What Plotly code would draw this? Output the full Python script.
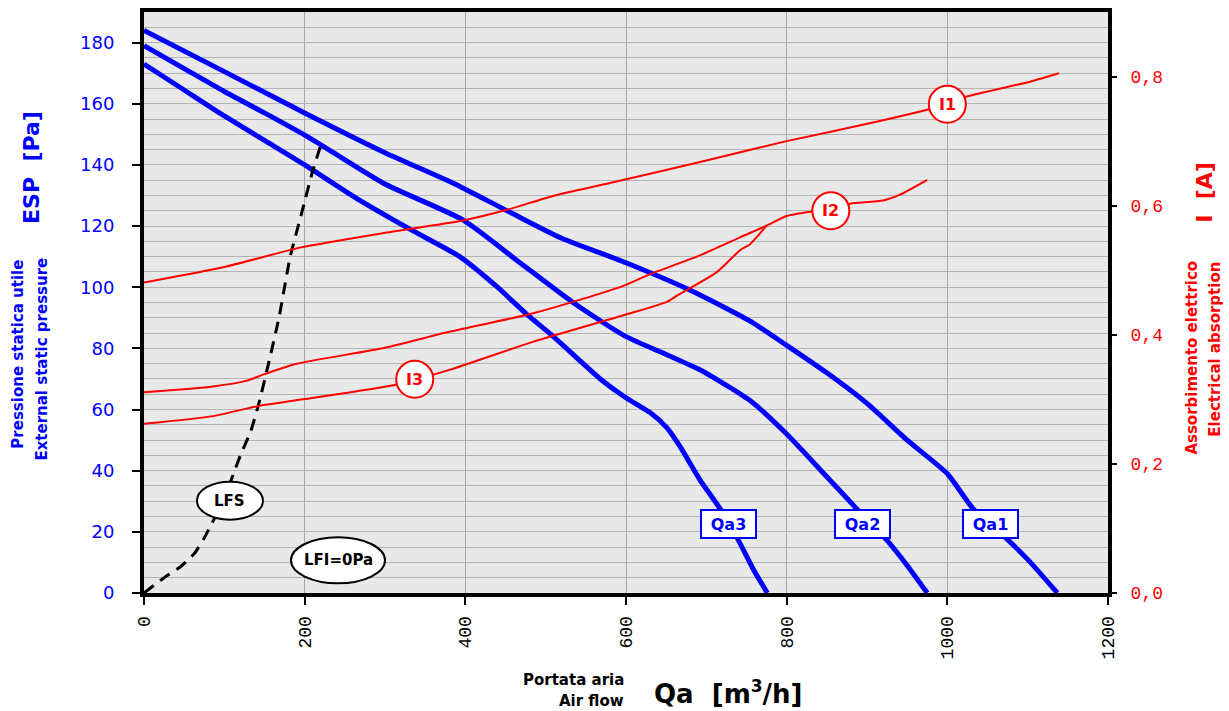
import plotly.graph_objects as go

# ---------------- data ----------------
qa1_x = [0, 100, 200, 300, 385, 452, 520, 600, 680, 754, 800, 850, 900, 950, 1000, 1032, 1076, 1100, 1137]
qa1_y = [184, 170.5, 157, 144, 134, 125, 116, 108, 99, 89, 81, 72, 62, 50, 39, 27.6, 17.2, 11, 0]

qa2_x = [0, 50, 100, 150, 205, 298, 397, 468, 534, 599, 650, 692, 754, 800, 850, 887, 925, 950, 975]
qa2_y = [179, 171.5, 164, 157, 149, 134, 122, 108, 95, 84, 78, 73, 63, 52, 38, 27.6, 17.2, 9, 0]

qa3_x = [0, 50, 100, 150, 200, 265, 331, 393, 440, 477, 509, 568, 599, 630, 651, 667, 692, 717, 740, 760, 776]
qa3_y = [173, 164.5, 156, 148, 140, 129, 119, 110, 100, 91, 84, 70, 64, 59, 54, 48, 37, 27.6, 17.2, 7, 0]

i1_x = [0, 100, 194, 300, 397, 453, 509, 580, 700, 800, 916, 1000, 1024, 1103, 1139]
i1_y = [0.481, 0.505, 0.535, 0.558, 0.577, 0.594, 0.615, 0.635, 0.67, 0.70, 0.731, 0.757, 0.769, 0.792, 0.805]

i2_x = [0, 86, 128, 150, 190, 300, 381, 477, 534, 599, 630, 692, 742, 775, 800, 831, 879, 920, 941, 975]
i2_y = [0.311, 0.32, 0.329, 0.339, 0.355, 0.38, 0.405, 0.431, 0.451, 0.477, 0.494, 0.523, 0.551, 0.569, 0.584, 0.591, 0.603, 0.608, 0.617, 0.64]

i3_x = [0, 86, 140, 198, 315, 381, 484, 599, 651, 664, 713, 742, 754, 775]
i3_y = [0.262, 0.274, 0.289, 0.30, 0.323, 0.346, 0.389, 0.431, 0.451, 0.461, 0.497, 0.531, 0.54, 0.569]

lfs_x = [0, 25, 45, 63, 75, 85, 100, 110, 120, 133, 143, 155, 168, 182, 196, 210, 222]
lfs_y = [0, 5, 8.5, 13, 18, 23, 31, 38, 45, 53, 62, 75, 90, 110, 124, 138, 148]

x_ticks = [0, 200, 400, 600, 800, 1000, 1200]
y_ticks = [0, 20, 40, 60, 80, 100, 120, 140, 160, 180]
y2_ticks = [0, 0.2, 0.4, 0.6, 0.8]
y2_ticktext = ["0,0", "0,2", "0,4", "0,6", "0,8"]

qa_labels = ["Qa1", "Qa2", "Qa3"]
qa_label_x = [1054, 895, 727]
qa_label_y = [22.5, 22.5, 22.5]

i_labels = ["I1", "I2", "I3"]
i_label_x = [1000, 855, 337]
i_label_y = [0.757, 0.592, 0.331]

# ---------------- layout geometry ----------------
W, H = 1229, 711
L, R, T, B = 144, 1108, 8, 593

def px(xp):
    return (xp - L) / (R - L)

def py(yp):
    return (B - yp) / (B - T)

BLUE = "#0000ff"
RED = "#ff0000"

fig = go.Figure()

for xs, ys in [(qa1_x, qa1_y), (qa2_x, qa2_y), (qa3_x, qa3_y)]:
    fig.add_trace(go.Scatter(x=xs, y=ys, mode="lines",
                             line=dict(color=BLUE, width=5, shape="spline", smoothing=0.6),
                             showlegend=False, hoverinfo="skip"))

for xs, ys in [(i1_x, i1_y), (i2_x, i2_y), (i3_x, i3_y)]:
    fig.add_trace(go.Scatter(x=xs, y=ys, mode="lines", yaxis="y2",
                             line=dict(color=RED, width=2, shape="spline", smoothing=0.6),
                             showlegend=False, hoverinfo="skip"))

fig.add_trace(go.Scatter(x=lfs_x, y=lfs_y, mode="lines",
                         line=dict(color="black", width=3, dash="12px,8px", shape="spline", smoothing=0.5),
                         showlegend=False, hoverinfo="skip"))

shapes = []
annotations = []

# ellipse labels LFS / LFI
for txt, ax, ay, wpx, hpx in [("LFS", 107, 30.2, 66, 38), ("LFI=0Pa", 241.5, 10.7, 94, 46)]:
    shapes.append(dict(type="circle", xref="x", yref="y", xsizemode="pixel", ysizemode="pixel",
                       xanchor=ax, yanchor=ay, x0=-wpx / 2, x1=wpx / 2, y0=-hpx / 2, y1=hpx / 2,
                       line=dict(color="black", width=2), fillcolor="white", layer="above"))
    annotations.append(dict(x=ax, y=ay, xref="x", yref="y", text="<b>%s</b>" % txt, showarrow=False,
                            font=dict(family="DejaVu Sans", size=15, color="black")))

# current labels
for txt, ax, ay in zip(i_labels, i_label_x, i_label_y):
    shapes.append(dict(type="circle", xref="x", yref="y2", xsizemode="pixel", ysizemode="pixel",
                       xanchor=ax, yanchor=ay, x0=-18.5, x1=18.5, y0=-18.5, y1=18.5,
                       line=dict(color=RED, width=2), fillcolor="white", layer="above"))
    annotations.append(dict(x=ax, y=ay, xref="x", yref="y2", text="<b>%s</b>" % txt, showarrow=False,
                            font=dict(family="DejaVu Sans", size=16, color=RED)))

# airflow labels
for txt, ax, ay in zip(qa_labels, qa_label_x, qa_label_y):
    annotations.append(dict(x=ax, y=ay, xref="x", yref="y", text="<b>%s</b>" % txt, showarrow=False,
                            font=dict(family="DejaVu Sans", size=16, color=BLUE),
                            width=47, height=20,
                            bgcolor="white", bordercolor=BLUE, borderwidth=2, borderpad=3))

# axis titles
def title(text, xp, yp, size, color, angle=0, xanchor="center", yanchor="middle"):
    annotations.append(dict(x=px(xp), y=py(yp), xref="paper", yref="paper", text=text, showarrow=False,
                            textangle=angle, xanchor=xanchor, yanchor=yanchor,
                            font=dict(family="DejaVu Sans", size=size, color=color)))

title("<b>ESP  [Pa]</b>", 32, 165, 22, BLUE, -90)
title("<b>Pressione statica utile</b>", 18, 352, 15, BLUE, -90)
title("<b>External static pressure</b>", 42, 358, 15, BLUE, -90)
title("<b>I  [A]</b>", 1205, 190, 22, RED, -90)
title("<b>Assorbimento elettrico</b>", 1192, 356, 15, RED, -90)
title("<b>Electrical absorption</b>", 1215, 348, 15, RED, -90)
title("<b>Portata aria</b>", 626, 681, 15, "black", 0, "right")
title("<b>Air flow</b>", 626, 702, 15, "black", 0, "right")
title("<b>Qa  [m<sup><span style='font-size:17px'>3</span></sup>/h]</b>", 652, 693, 26, "black", 0, "left")

fig.update_layout(
    width=W, height=H,
    margin=dict(l=L, r=W - R, t=T, b=H - B),
    paper_bgcolor="white",
    plot_bgcolor="#e8e8e8",
    showlegend=False,
    shapes=shapes,
    annotations=annotations,
    xaxis=dict(range=[0, 1200], tickvals=x_ticks, ticktext=[str(v) for v in x_ticks],
               tickangle=-90, ticks="outside", ticklen=8, tickwidth=2, tickcolor="black",
               showline=True, linewidth=4, linecolor="black", mirror=True,
               showgrid=True, gridcolor="#a8a8a8", gridwidth=1, zeroline=False,
               ticklabelstandoff=4,
               tickfont=dict(family="Liberation Mono", size=18, color="black")),
    yaxis=dict(range=[0, 190], tickvals=y_ticks, ticktext=[str(v) for v in y_ticks],
               ticks="outside", ticklen=8, tickwidth=2, tickcolor="black",
               showline=True, linewidth=4, linecolor="black", mirror=True,
               showgrid=True, gridcolor="#b4b4b4", gridwidth=1, zeroline=False,
               minor=dict(dtick=5, tick0=0, showgrid=True, gridcolor="#b4b4b4", gridwidth=1, ticks=""),
               ticklabelstandoff=14,
               tickfont=dict(family="DejaVu Sans", size=18, color=BLUE)),
    yaxis2=dict(range=[0, 0.9], overlaying="y", side="right",
                tickvals=y2_ticks, ticktext=y2_ticktext,
                ticks="outside", ticklen=8, tickwidth=2, tickcolor="black",
                showline=False, showgrid=False, zeroline=False,
                ticklabelstandoff=10,
                tickfont=dict(family="Liberation Mono", size=18, color=RED)),
)

fig.write_html("out.html", config={"displayModeBar": False},
               post_script="document.body.style.margin='0';document.body.style.overflow='hidden';")
